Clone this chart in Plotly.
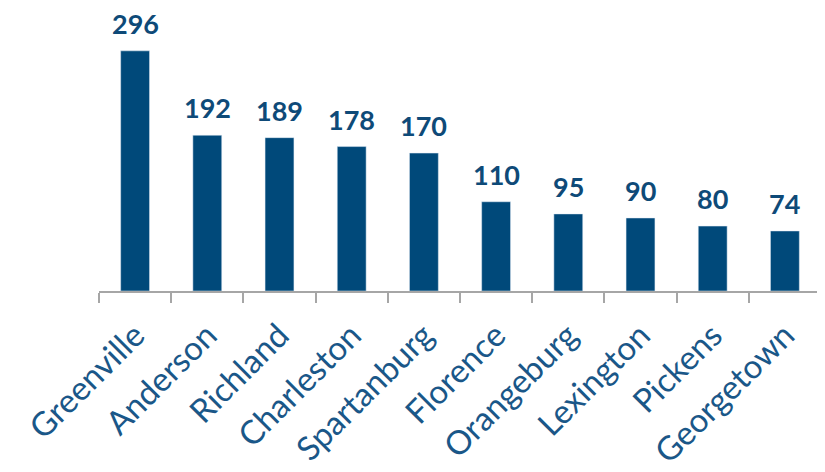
import plotly.graph_objects as go

counties = ["Greenville", "Anderson", "Richland", "Charleston", "Spartanburg",
            "Florence", "Orangeburg", "Lexington", "Pickens", "Georgetown"]
values = [296, 192, 189, 178, 170, 110, 95, 90, 80, 74]

BAR = "#00497A"
LABEL = "#0E4A78"
TICK = "#1A5788"

fig = go.Figure(go.Bar(x=counties, y=values, marker_color=BAR, width=0.4,
                       hoverinfo="x+y"))

for c, v in zip(counties, values):
    fig.add_annotation(x=c, y=v, text=f"<b>{v}</b>", showarrow=False,
                       yanchor="bottom", yshift=10, borderpad=0,
                       font=dict(family="Lato", size=27, color=LABEL))

# page body has an 8px default margin, so offsets are compensated here
fig.update_layout(
    width=825, height=472,
    margin=dict(l=91, r=12, t=12, b=189),
    plot_bgcolor="white", paper_bgcolor="white",
    showlegend=False,
    xaxis=dict(type="category", tickangle=-45, showline=True, linecolor="#A6A6A6",
               linewidth=2, ticks="outside", tickson="boundaries", ticklen=10,
               tickcolor="#A6A6A6", tickwidth=2, automargin=False,
               ticklabelstandoff=10,
               tickfont=dict(family="Lato", size=33, color=TICK), showgrid=False),
    yaxis=dict(range=[0, 334], visible=False, showgrid=False, automargin=False),
)

fig.write_html("out.html")
